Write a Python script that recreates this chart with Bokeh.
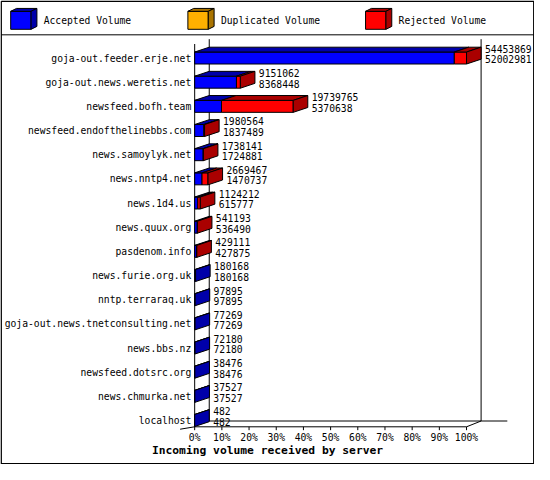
from bokeh.plotting import figure
from bokeh.models import Range1d
from bokeh.core.properties import value
from bokeh.embed import file_html
from bokeh.resources import INLINE

# ---------------- data ----------------
servers = [
    "goja-out.feeder.erje.net",
    "goja-out.news.weretis.net",
    "newsfeed.bofh.team",
    "newsfeed.endofthelinebbs.com",
    "news.samoylyk.net",
    "news.nntp4.net",
    "news.1d4.us",
    "news.quux.org",
    "pasdenom.info",
    "news.furie.org.uk",
    "nntp.terraraq.uk",
    "goja-out.news.tnetconsulting.net",
    "news.bbs.nz",
    "newsfeed.dotsrc.org",
    "news.chmurka.net",
    "localhost",
]
total_volume = [54453869, 9151062, 19739765, 1980564, 1738141, 2669467, 1124212,
                541193, 429111, 180168, 97895, 77269, 72180, 38476, 37527, 482]
accepted_volume = [52002981, 8368448, 5370638, 1837489, 1724881, 1470737, 615777,
                   536490, 427875, 180168, 97895, 77269, 72180, 38476, 37527, 482]
duplicated_volume = [0] * len(servers)
rejected_volume = [t - a - d for t, a, d in zip(total_volume, accepted_volume, duplicated_volume)]

pct_ticks = [0, 10, 20, 30, 40, 50, 60, 70, 80, 90, 100]
pct_labels = ["0%", "10%", "20%", "30%", "40%", "50%", "60%", "70%", "80%", "90%", "100%"]
legend_labels = ["Accepted Volume", "Duplicated Volume", "Rejected Volume"]
chart_title = "Incoming volume received by server"

# ---------------- style ----------------
FRONT = ["#0000ff", "#ffb000", "#ff0000"]
DARK = ["#0000aa", "#aa7400", "#aa0000"]
FONT = value("DejaVu Sans Mono")
FS = "9.7px"

W, H = 534, 464

# layout geometry (reference pixel space -> percent / row space)
PX_PER_PCT = 2.8
ROW0 = 59.5
ROW_H = 25.0


def xv(ref_x):
    return (ref_x - 200.0) / PX_PER_PCT


def yv(ref_y):
    return (ref_y - ROW0) / ROW_H


DX = 15 / PX_PER_PCT
DY = -5 / ROW_H
HH = 6.2 / ROW_H

p = figure(width=W, height=H, x_range=Range1d(xv(0), xv(550)),
           y_range=Range1d(yv(480), yv(0)), x_axis_type=None, y_axis_type=None,
           output_backend="svg", toolbar_location=None, min_border=0,
           outline_line_color=None, background_fill_color="white",
           border_fill_color="white")
p.grid.visible = False

# outer border and legend separator
p.line(x=[xv(0.7), xv(549.3), xv(549.3), xv(0.7), xv(0.7)],
       y=[yv(0.7), yv(0.7), yv(479.3), yv(479.3), yv(0.7)],
       line_color="black", line_width=1.5)
p.line(x=[xv(0.7), xv(549.3)], y=[yv(35.5), yv(35.5)], line_color="black", line_width=1)

# ---------------- legend ----------------
leg_x = [10.5, 193.0, 376.0]
cx, cy, cc = [], [], []
for k, x0 in enumerate(leg_x):
    y0, y1, w, ddx, ddy = 11.2, 29.8, 21.0, 6.0, -3.0
    cx.append([xv(x0), xv(x0 + w), xv(x0 + w), xv(x0)])
    cy.append([yv(y0), yv(y0), yv(y1), yv(y1)]); cc.append(FRONT[k])
    cx.append([xv(x0), xv(x0 + w), xv(x0 + w + ddx), xv(x0 + ddx)])
    cy.append([yv(y0), yv(y0), yv(y0 + ddy), yv(y0 + ddy)]); cc.append(DARK[k])
    cx.append([xv(x0 + w), xv(x0 + w + ddx), xv(x0 + w + ddx), xv(x0 + w)])
    cy.append([yv(y0), yv(y0 + ddy), yv(y1 + ddy), yv(y1)]); cc.append(DARK[k])
p.patches(cx, cy, fill_color=cc, line_color="black", line_width=1)
p.text(x=[xv(x + 34) for x in leg_x], y=[yv(21)] * 3, text=legend_labels,
       text_font=FONT, text_font_size=FS, text_baseline="middle",
       text_align="left", text_color="black")

# ---------------- walls / floor ----------------
y_back_top, y_back_bot = yv(40), yv(435)
y_front_top, y_front_bot = yv(45), yv(441)
p.multi_line(
    xs=[[DX, DX], [0, 0], [100 + DX, 100 + DX], [DX, xv(522)],
        [-DX, 0, 100, 100 + DX]],
    ys=[[y_back_top, y_back_bot], [y_front_top, y_front_bot], [y_back_top, y_back_bot],
        [y_back_bot, y_back_bot], [yv(443.5), y_front_bot, y_front_bot, y_back_bot]],
    line_color="black", line_width=1)

# ---------------- bars ----------------
maxv = float(max(total_volume))


def pct(v):
    return 100.0 * v / maxv


rows = list(range(len(servers)))
bx, by, bc = [], [], []
for i in rows:
    yt, yb = i - HH, i + HH
    acc = 0
    segs = []
    for k, val in enumerate((accepted_volume[i], duplicated_volume[i], rejected_volume[i])):
        if val > 0:
            segs.append((pct(acc), pct(acc + val), k))
            acc += val
    for x0, x1, k in segs:
        bx.append([x0, x1, x1, x0]); by.append([yt, yt, yb, yb]); bc.append(FRONT[k])
        bx.append([x0, x1, x1 + DX, x0 + DX]); by.append([yt, yt, yt + DY, yt + DY]); bc.append(DARK[k])
    xe = pct(acc)
    k = segs[-1][2]
    bx.append([xe, xe + DX, xe + DX, xe]); by.append([yt, yt + DY, yb + DY, yb]); bc.append(DARK[k])
p.patches(bx, by, fill_color=bc, line_color="black", line_width=1)

# value labels (total above, accepted below)
lab_x = [pct(t) + DX + 4 / PX_PER_PCT for t in total_volume]
p.text(x=lab_x, y=[r - 0.38 for r in rows], text=[str(t) for t in total_volume],
       text_font=FONT, text_font_size=FS, text_baseline="middle", text_align="left")
p.text(x=lab_x, y=[r + 0.06 for r in rows], text=[str(a) for a in accepted_volume],
       text_font=FONT, text_font_size=FS, text_baseline="middle", text_align="left")

# category labels
p.text(x=[xv(196.5)] * len(rows), y=rows, text=servers, text_font=FONT,
       text_font_size=FS, text_baseline="middle", text_align="right")

# percent axis: ticks and labels
p.segment(x0=pct_ticks, x1=pct_ticks, y0=[yv(441)] * len(pct_ticks),
          y1=[yv(444.5)] * len(pct_ticks), line_color="black", line_width=1)
p.text(x=pct_ticks, y=[yv(452)] * len(pct_ticks), text=pct_labels, text_font=FONT,
       text_font_size=FS, text_baseline="middle", text_align="center")

# axis title
p.text(x=[xv(275)], y=[yv(466)], text=[chart_title], text_font=FONT,
       text_font_size="11.3px", text_font_style="bold", text_baseline="middle",
       text_align="center")

open("out.html", "w").write(file_html(p, INLINE))
